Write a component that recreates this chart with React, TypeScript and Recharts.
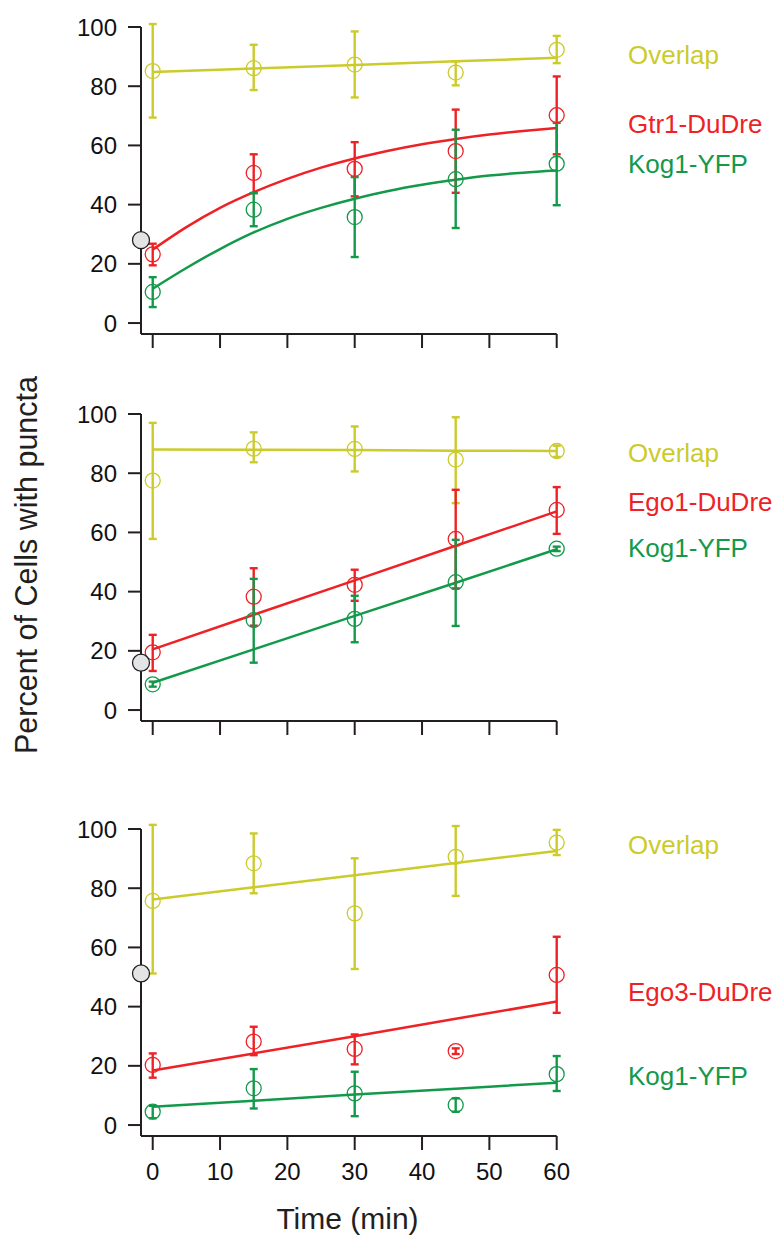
import { ComposedChart, XAxis, YAxis, Line, Scatter, ErrorBar } from 'recharts'

// sampling times (min)
const TIMES = [0, 15, 30, 45, 60]
const FINE_TIMES = [0, 5, 10, 15, 20, 25, 30, 35, 40, 45, 50, 55, 60]
const X_TICKS = [0, 10, 20, 30, 40, 50, 60]
const Y_TICKS = [0, 20, 40, 60, 80, 100]

// axes are offset from the data origin (Igor style)
const X_MIN = -1.74
const Y_MIN = -3.7

// panel 1: Gtr1
const p1OverlapMean = [85.1, 86.1, 87.3, 84.6, 92.3]
const p1OverlapLow = [69.4, 78.7, 76.2, 80.3, 87.8]
const p1OverlapHigh = [101, 94.0, 98.5, 88.4, 97.0]
const p1OverlapFit = [84.8, 86.0, 87.2, 88.4, 89.6]
const p1RedMean = [23.2, 50.7, 52.1, 58.1, 70.2]
const p1RedLow = [19.5, 43.9, 42.8, 44.0, 57.0]
const p1RedHigh = [26.8, 57.0, 61.1, 72.1, 83.3]
const p1RedFit = [24.8, 32.4, 38.9, 44.2, 48.7, 52.5, 55.6, 58.2, 60.4, 62.2, 63.7, 64.9, 65.9]
const p1GreenMean = [10.5, 38.3, 35.8, 48.6, 53.8]
const p1GreenLow = [5.4, 32.7, 22.3, 32.1, 39.8]
const p1GreenHigh = [15.5, 43.9, 49.3, 65.3, 67.6]
const p1GreenFit = [11.6, 18.6, 25.0, 30.6, 35.2, 38.9, 42.0, 44.6, 46.7, 48.4, 49.8, 50.8, 51.5]
const p1Baseline = 28

// panel 2: Ego1
const p2OverlapMean = [77.5, 88.3, 88.2, 84.6, 87.5]
const p2OverlapLow = [57.8, 83.7, 80.6, 69.9, 85.5]
const p2OverlapHigh = [97.0, 93.8, 95.8, 98.9, 89.3]
const p2OverlapFit = [88.0, 87.9, 87.8, 87.6, 87.5]
const p2RedMean = [19.5, 38.3, 42.3, 57.8, 67.6]
const p2RedLow = [13.2, 28.5, 36.9, 41.1, 59.5]
const p2RedHigh = [25.4, 47.9, 47.4, 74.4, 75.3]
const p2RedFit = [20.5, 32.2, 43.8, 55.5, 67.1]
const p2GreenMean = [8.7, 30.4, 30.8, 43.2, 54.5]
const p2GreenLow = [7.9, 16.0, 22.9, 28.4, 53.7]
const p2GreenHigh = [9.6, 44.3, 38.6, 57.5, 55.2]
const p2GreenFit = [9.2, 20.5, 31.8, 43.0, 54.3]
const p2Baseline = 16

// panel 3: Ego3
const p3OverlapMean = [75.7, 88.4, 71.5, 90.6, 95.4]
const p3OverlapLow = [51.2, 78.3, 52.7, 77.4, 91.2]
const p3OverlapHigh = [101.4, 98.5, 90.1, 101.0, 99.7]
const p3OverlapFit = [76.2, 80.3, 84.4, 88.5, 92.6]
const p3RedMean = [20.3, 28.2, 25.7, 25.0, 50.7]
const p3RedLow = [16.0, 23.6, 20.5, 24.0, 37.9]
const p3RedHigh = [24.2, 33.2, 30.6, 25.9, 63.6]
const p3RedFit = [18.4, 24.2, 30.0, 35.9, 41.7]
const p3GreenMean = [4.5, 12.4, 10.7, 6.8, 17.2]
const p3GreenLow = [2.3, 5.6, 3.0, 4.5, 11.5]
const p3GreenHigh = [6.5, 18.9, 18.0, 9.0, 23.3]
const p3GreenFit = [6.2, 8.2, 10.3, 12.3, 14.3]
const p3Baseline = 51.2

const YELLOW = '#cbcb2c'
const RED = '#ee2226'
const GREEN = '#13994a'
const INK = '#231f20'
const FONT = '"Liberation Sans", Arial, sans-serif'

const points = (mean: number[], low: number[], high: number[]) =>
  TIMES.map((x, i) => ({ x, y: mean[i], err: [mean[i] - low[i], high[i] - mean[i]] }))

const curve = (xs: number[], ys: number[]) => xs.map((x, i) => ({ x, y: ys[i] }))

const ring = (color: string) => (props: any) => (
  <circle cx={props.cx} cy={props.cy} r={7.5} fill="none" stroke={color} strokeWidth={1.3} />
)

const grayDot = (props: any) => (
  <circle cx={props.cx} cy={props.cy} r={8.5} fill="#e2e4e6" stroke={INK} strokeWidth={1.3} />
)

interface Series {
  color: string
  mean: number[]
  low: number[]
  high: number[]
  fitX: number[]
  fit: number[]
  smooth?: boolean
}

interface PanelProps {
  top: number
  height: number
  series: Series[]
  baseline: number
  labels: { text: string; color: string; y: number }[]
  showTimeLabels?: boolean
}

function Panel({ top, height, series, baseline, labels, showTimeLabels }: PanelProps) {
  return (
    <div style={{ position: 'absolute', left: 0, top, width: 780, height }}>
      <ComposedChart
        width={780}
        height={height}
        margin={{ top: 27, right: 223.3, left: 81, bottom: height - 334 - 30 }}
      >
        <XAxis
          type="number"
          dataKey="x"
          domain={[X_MIN, 60]}
          ticks={X_TICKS}
          height={30}
          tickSize={14}
          tickMargin={13}
          stroke={INK}
          strokeWidth={2}
          tickFormatter={showTimeLabels ? (v: number) => String(v) : () => ''}
          tick={{ fill: '#111', fontSize: 24, fontFamily: FONT }}
        />
        <YAxis
          type="number"
          dataKey="y"
          domain={[Y_MIN, 100]}
          allowDataOverflow
          ticks={Y_TICKS}
          width={60}
          tickSize={13}
          tickMargin={11}
          stroke={INK}
          strokeWidth={2}
          tick={{ fill: '#111', fontSize: 24, fontFamily: FONT }}
        />
        {series.map((s, i) => (
          <Line
            key={'fit' + i}
            data={curve(s.fitX, s.fit)}
            dataKey="y"
            type={s.smooth ? 'monotone' : 'linear'}
            stroke={s.color}
            strokeWidth={2.5}
            dot={false}
            activeDot={false}
            isAnimationActive={false}
          />
        ))}
        {series.map((s, i) => (
          <Scatter
            key={'pts' + i}
            data={points(s.mean, s.low, s.high)}
            dataKey="y"
            shape={ring(s.color)}
            isAnimationActive={false}
          >
            <ErrorBar dataKey="err" direction="y" width={4} stroke={s.color} strokeWidth={2.4} />
          </Scatter>
        ))}
        <Scatter data={[{ x: X_MIN, y: baseline }]} dataKey="y" shape={grayDot} isAnimationActive={false} />
      </ComposedChart>
      {labels.map((l) => (
        <div
          key={l.text}
          style={{
            position: 'absolute',
            left: 628,
            top: l.y - top - 13.5,
            fontFamily: FONT,
            fontSize: 26,
            lineHeight: '27px',
            color: l.color,
            whiteSpace: 'nowrap'
          }}
        >
          {l.text}
        </div>
      ))}
    </div>
  )
}

export default function App() {
  return (
    <div style={{ position: 'absolute', left: 0, top: 0, width: 780, height: 1241, background: '#fff' }}>
      <Panel
        top={0}
        height={380}
        baseline={p1Baseline}
        series={[
          { color: YELLOW, mean: p1OverlapMean, low: p1OverlapLow, high: p1OverlapHigh, fitX: TIMES, fit: p1OverlapFit },
          { color: RED, mean: p1RedMean, low: p1RedLow, high: p1RedHigh, fitX: FINE_TIMES, fit: p1RedFit, smooth: true },
          { color: GREEN, mean: p1GreenMean, low: p1GreenLow, high: p1GreenHigh, fitX: FINE_TIMES, fit: p1GreenFit, smooth: true }
        ]}
        labels={[
          { text: 'Overlap', color: YELLOW, y: 55 },
          { text: 'Gtr1-DuDre', color: RED, y: 124 },
          { text: 'Kog1-YFP', color: GREEN, y: 164.5 }
        ]}
      />
      <Panel
        top={387.3}
        height={380}
        baseline={p2Baseline}
        series={[
          { color: YELLOW, mean: p2OverlapMean, low: p2OverlapLow, high: p2OverlapHigh, fitX: TIMES, fit: p2OverlapFit },
          { color: RED, mean: p2RedMean, low: p2RedLow, high: p2RedHigh, fitX: TIMES, fit: p2RedFit },
          { color: GREEN, mean: p2GreenMean, low: p2GreenLow, high: p2GreenHigh, fitX: TIMES, fit: p2GreenFit }
        ]}
        labels={[
          { text: 'Overlap', color: YELLOW, y: 454 },
          { text: 'Ego1-DuDre', color: RED, y: 502.5 },
          { text: 'Kog1-YFP', color: GREEN, y: 548.5 }
        ]}
      />
      <Panel
        top={802}
        height={400}
        baseline={p3Baseline}
        showTimeLabels
        series={[
          { color: YELLOW, mean: p3OverlapMean, low: p3OverlapLow, high: p3OverlapHigh, fitX: TIMES, fit: p3OverlapFit },
          { color: RED, mean: p3RedMean, low: p3RedLow, high: p3RedHigh, fitX: TIMES, fit: p3RedFit },
          { color: GREEN, mean: p3GreenMean, low: p3GreenLow, high: p3GreenHigh, fitX: TIMES, fit: p3GreenFit }
        ]}
        labels={[
          { text: 'Overlap', color: YELLOW, y: 845.5 },
          { text: 'Ego3-DuDre', color: RED, y: 992.5 },
          { text: 'Kog1-YFP', color: GREEN, y: 1076 }
        ]}
      />
      <div
        style={{
          position: 'absolute',
          left: 347.5 - 150,
          top: 1204.4,
          width: 300,
          textAlign: 'center',
          fontFamily: FONT,
          fontSize: 30,
          lineHeight: '30px',
          color: INK
        }}
      >
        Time (min)
      </div>
      <div
        style={{
          position: 'absolute',
          left: 26 - 250,
          top: 565 - 15,
          width: 500,
          textAlign: 'center',
          fontFamily: FONT,
          fontSize: 30.5,
          lineHeight: '30px',
          color: INK,
          transform: 'rotate(-90deg)'
        }}
      >
        Percent of Cells with puncta
      </div>
    </div>
  )
}
